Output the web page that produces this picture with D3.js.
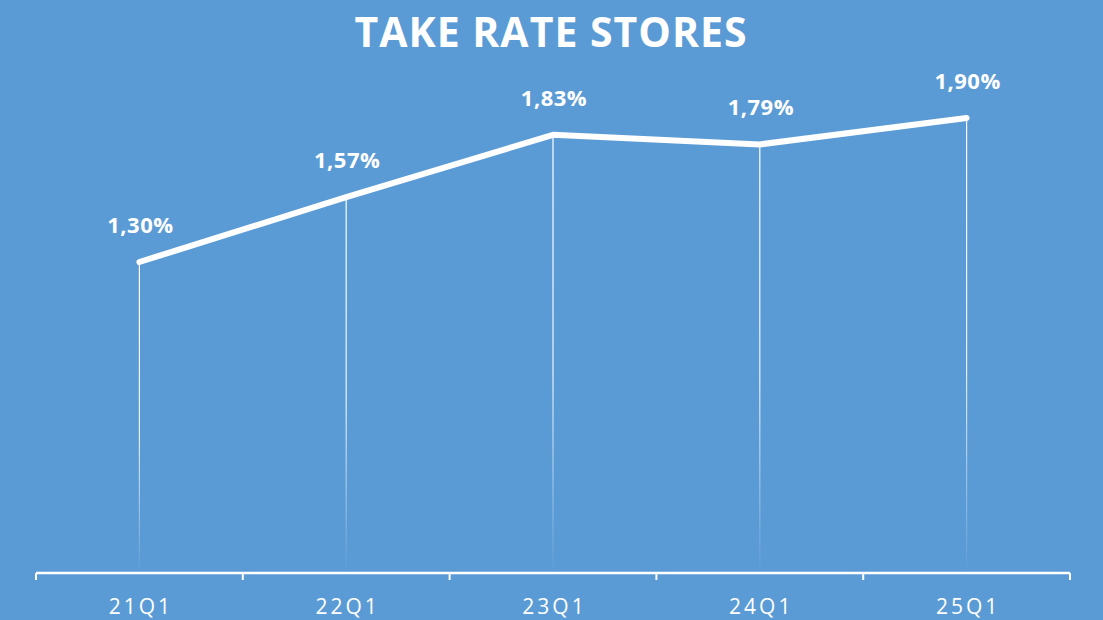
<!DOCTYPE html>
<html><head><meta charset="utf-8">
<script src="https://cdn.jsdelivr.net/npm/d3@7"></script>
<style>html,body{margin:0;padding:0;background:#5B9BD5;overflow:hidden}</style>
</head><body>
<script>
const categories = ["21Q1","22Q1","23Q1","24Q1","25Q1"];
const values = [1.30, 1.57, 1.83, 1.79, 1.90];
const labels = ["1,30%","1,57%","1,83%","1,79%","1,90%"];
const title = "TAKE RATE STORES";

const W = 1103, H = 620;
const svg = d3.select("body").append("svg").attr("width", W).attr("height", H);
svg.append("rect").attr("width", W).attr("height", H).attr("fill", "#5B9BD5");

const x = d3.scaleBand().domain(categories).range([36, 1070]).padding(0);
const y = d3.scaleLinear().domain([0, 2]).range([574, 94]);

const defs = svg.append("defs");
const g = defs.append("linearGradient").attr("id","fade").attr("x1",0).attr("y1",0).attr("x2",0).attr("y2",1);
g.append("stop").attr("offset","0%").attr("stop-color","#fff").attr("stop-opacity",1);
g.append("stop").attr("offset","55%").attr("stop-color","#fff").attr("stop-opacity",0.85);
g.append("stop").attr("offset","100%").attr("stop-color","#fff").attr("stop-opacity",0);

svg.append("text").attr("x", 551).attr("y", 47).attr("text-anchor","middle")
  .attr("font-family","'Open Sans', sans-serif").attr("font-weight","bold")
  .attr("font-size", 41).attr("letter-spacing","1px").attr("fill","#fff").text(title);

const cx = d => x(d) + x.bandwidth()/2;

svg.selectAll("rect.drop").data(categories).enter().append("rect")
  .attr("class","drop")
  .attr("x", d => cx(d) - 0.6).attr("width", 1.2)
  .attr("y", (d,i) => y(values[i])).attr("height", (d,i) => 572 - y(values[i]))
  .attr("fill","url(#fade)");

const line = d3.line().x((d,i) => cx(categories[i])).y(d => y(d));
svg.append("path").datum(values).attr("d", line).attr("fill","none")
  .attr("stroke","#fff").attr("stroke-width",6).attr("stroke-linecap","round").attr("stroke-linejoin","round");

svg.selectAll("text.lbl").data(values).enter().append("text")
  .attr("class","lbl").attr("x",(d,i)=>cx(categories[i])+1).attr("y", d => y(d) - 29)
  .attr("text-anchor","middle").attr("font-family","'Open Sans', sans-serif")
  .attr("font-weight","bold").attr("font-size",22).attr("letter-spacing","0.5px").attr("fill","#fff")
  .text((d,i)=>labels[i]);

const axis = d3.axisBottom(x).tickSize(0).tickPadding(0);
const ag = svg.append("g").attr("transform","translate(0,573)");
ag.append("line").attr("x1",36).attr("x2",1070).attr("stroke","#fff").attr("stroke-width",2.5);
const ticks = categories.map(c => x(c)).concat([x(categories[categories.length-1]) + x.bandwidth()]);
ag.selectAll("line.t").data(ticks).enter().append("line").attr("class","t")
  .attr("x1",d=>d).attr("x2",d=>d).attr("y1",0).attr("y2",7).attr("stroke","#fff").attr("stroke-width",2);
ag.selectAll("text.c").data(categories).enter().append("text").attr("class","c")
  .attr("x", d => cx(d) + 1.5).attr("y", 41).attr("text-anchor","middle")
  .attr("font-family","'Open Sans', sans-serif").attr("font-size",21).attr("letter-spacing","3px")
  .attr("fill","#fff").text(d => d);
</script>
</body></html>
